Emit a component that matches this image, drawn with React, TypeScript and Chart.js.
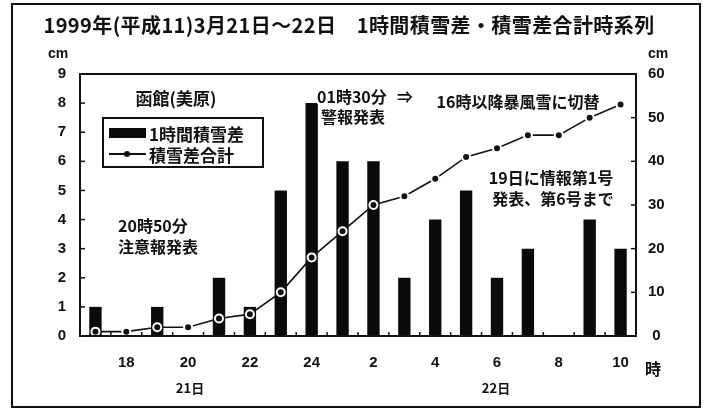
import React, { useEffect, useRef } from 'react';
import { Chart, registerables } from 'chart.js';

Chart.register(...registerables);

// Hours from 21st 17時 to 22nd 10時
const hours = ['17', '18', '19', '20', '21', '22', '23', '24', '1', '2', '3', '4', '5', '6', '7', '8', '9', '10'];
// 1時間積雪差 (cm, left axis)
const hourlySnow = [1, 0, 1, 0, 2, 1, 5, 8, 6, 6, 2, 4, 5, 2, 3, 0, 4, 3];
// 積雪差合計 (cm, right axis)
const cumulativeSnow = [1, 1, 2, 2, 4, 5, 10, 18, 24, 30, 32, 36, 41, 43, 46, 46, 50, 53];
// labelled hours on the x axis
const shownHours = ['18', '20', '22', '24', '2', '4', '6', '8', '10'];
const leftAxis = { min: 0, max: 9, step: 1 };
const rightAxis = { min: 0, max: 60, step: 10 };

const seriesNames = ['1時間積雪差', '積雪差合計'];
const titleText = '1999年(平成11)3月21日～22日　1時間積雪差・積雪差合計時系列';

const CJK = '"Noto Sans CJK JP", "Noto Sans", sans-serif';
const NUM = '"Liberation Sans", Arial, sans-serif';

const framePlugin = {
  id: 'frameTicks',
  afterDraw(chart: any) {
    const { ctx, chartArea } = chart;
    const { left, right, top, bottom } = chartArea;
    ctx.save();
    ctx.strokeStyle = '#111';
    ctx.lineWidth = 2;
    ctx.strokeRect(left, top, right - left, bottom - top);
    ctx.lineWidth = 1.5;
    const yl = chart.scales.y;
    for (let v = leftAxis.min; v <= leftAxis.max; v += leftAxis.step) {
      const py = yl.getPixelForValue(v);
      ctx.beginPath();
      ctx.moveTo(left, py);
      ctx.lineTo(left + 5, py);
      ctx.stroke();
    }
    const yr = chart.scales.y1;
    for (let v = rightAxis.min; v <= rightAxis.max; v += rightAxis.step) {
      const py = yr.getPixelForValue(v);
      ctx.beginPath();
      ctx.moveTo(right, py);
      ctx.lineTo(right - 5, py);
      ctx.stroke();
    }
    const xs = chart.scales.x;
    for (let i = 0; i <= hours.length; i++) {
      const px = xs.getPixelForValue(i) - (xs.getPixelForValue(1) - xs.getPixelForValue(0)) / 2;
      ctx.beginPath();
      ctx.moveTo(px, bottom);
      ctx.lineTo(px, bottom - 4);
      ctx.stroke();
    }
    ctx.restore();
  },
};

type Label = { text: string; x: number; y: number; size: number; align?: 'left' | 'center'; font?: string; ls?: number };

const labels: Label[] = [
  { text: titleText, x: 349, y: 25, size: 20, align: 'center', ls: 0.4 },
  { text: 'cm', x: 58, y: 53, size: 14, align: 'center', font: NUM },
  { text: 'cm', x: 658, y: 53, size: 14, align: 'center', font: NUM },
  { text: '時', x: 653, y: 368, size: 16, align: 'center' },
  { text: '21日', x: 190, y: 387, size: 13, align: 'center' },
  { text: '22日', x: 496, y: 387, size: 13, align: 'center' },
  { text: '函館(美原)', x: 176, y: 97, size: 17, align: 'center' },
  { text: '20時50分', x: 118, y: 225, size: 16 },
  { text: '注意報発表', x: 118, y: 246, size: 16 },
  { text: '01時30分', x: 317, y: 96, size: 16 },
  { text: '警報発表', x: 321, y: 116, size: 16 },
  { text: '⇒', x: 405, y: 96, size: 16, align: 'center' },
  { text: '16時以降暴風雪に切替', x: 518, y: 101, size: 16, align: 'center' },
  { text: '19日に情報第1号', x: 551, y: 177, size: 16, align: 'center' },
  { text: '発表、第6号まで', x: 553, y: 198, size: 16, align: 'center' },
];

export default function App() {
  const ref = useRef<HTMLCanvasElement | null>(null);

  useEffect(() => {
    if (!ref.current) return;
    const chart = new Chart(ref.current, {
      type: 'bar',
      data: {
        labels: hours,
        datasets: [
          {
            type: 'line',
            label: seriesNames[1],
            data: cumulativeSnow,
            yAxisID: 'y1',
            borderColor: '#111',
            borderWidth: 1.6,
            pointRadius: 4,
            pointBackgroundColor: '#111',
            pointBorderColor: '#fff',
            pointBorderWidth: 2,
            tension: 0,
            order: 0,
          } as any,
          {
            type: 'bar',
            label: seriesNames[0],
            data: hourlySnow,
            yAxisID: 'y',
            backgroundColor: '#0a0a0a',
            borderWidth: 0,
            barPercentage: 0.4,
            categoryPercentage: 1,
            order: 1,
          },
        ],
      },
      options: {
        responsive: false,
        animation: false,
        layout: { padding: { top: 74, left: 0, right: 0, bottom: 0 } },
        plugins: { legend: { display: false }, tooltip: { enabled: false }, title: { display: false } },
        scales: {
          x: {
            offset: true,
            grid: { display: false, drawTicks: false },
            border: { display: false },
            afterFit: (s: any) => { s.height = 72; },
            ticks: {
              autoSkip: false,
              maxRotation: 0,
              padding: 18,
              color: '#111',
              font: { family: NUM, size: 15, weight: 'bold' },
              callback: (_v: any, i: number) => (shownHours.includes(hours[i]) ? hours[i] : ''),
            },
          },
          y: {
            position: 'left',
            min: leftAxis.min,
            max: leftAxis.max,
            grid: { display: false, drawTicks: false },
            border: { display: false },
            afterFit: (s: any) => { s.width = 80; },
            ticks: { stepSize: leftAxis.step, padding: 14, color: '#111', font: { family: NUM, size: 15, weight: 'bold' } },
          },
          y1: {
            position: 'right',
            min: rightAxis.min,
            max: rightAxis.max,
            grid: { display: false, drawTicks: false },
            border: { display: false },
            afterFit: (s: any) => { s.width = 68; },
            ticks: { stepSize: rightAxis.step, padding: 12, crossAlign: 'center', color: '#111', font: { family: NUM, size: 15, weight: 'bold' } },
          },
        },
      } as any,
      plugins: [framePlugin],
    });
    return () => chart.destroy();
  }, []);

  return (
    <div style={{ position: 'absolute', left: 0, top: 0, width: 704, height: 408, background: '#fff', overflow: 'hidden' }}>
      <canvas ref={ref} width={704} height={408} style={{ position: 'absolute', left: 0, top: 0 }} />
      <div style={{ position: 'absolute', left: 11, top: 3, width: 686, height: 401, border: '2px solid #111', pointerEvents: 'none' }} />
      {labels.map((l, i) => (
        <div
          key={i}
          style={{
            position: 'absolute',
            left: l.x,
            top: l.y,
            transform: l.align === 'center' ? 'translate(-50%, -50%)' : 'translate(0, -50%)',
            fontFamily: l.font || CJK,
            fontWeight: 700,
            fontSize: l.size,
            letterSpacing: l.ls || 0,
            lineHeight: 1,
            whiteSpace: 'nowrap',
            color: '#111',
            background: '#fff',
          }}
        >
          {l.text}
        </div>
      ))}
      <div style={{ position: 'absolute', left: 102, top: 117, width: 158, height: 47, border: '2px solid #111', background: '#fff' }}>
        <div style={{ position: 'absolute', left: 5, top: 9, width: 37, height: 10, background: '#0a0a0a' }} />
        <div style={{ position: 'absolute', left: 45, top: 14, transform: 'translateY(-50%)', fontFamily: CJK, fontWeight: 700, fontSize: 17, lineHeight: 1, whiteSpace: 'nowrap', color: '#111' }}>
          {seriesNames[0]}
        </div>
        <div style={{ position: 'absolute', left: 5, top: 34, width: 37, height: 2, background: '#111' }} />
        <div style={{ position: 'absolute', left: 20, top: 32, width: 6, height: 6, borderRadius: 3, background: '#111' }} />
        <div style={{ position: 'absolute', left: 45, top: 35, transform: 'translateY(-50%)', fontFamily: CJK, fontWeight: 700, fontSize: 17, lineHeight: 1, whiteSpace: 'nowrap', color: '#111' }}>
          {seriesNames[1]}
        </div>
      </div>
    </div>
  );
}
